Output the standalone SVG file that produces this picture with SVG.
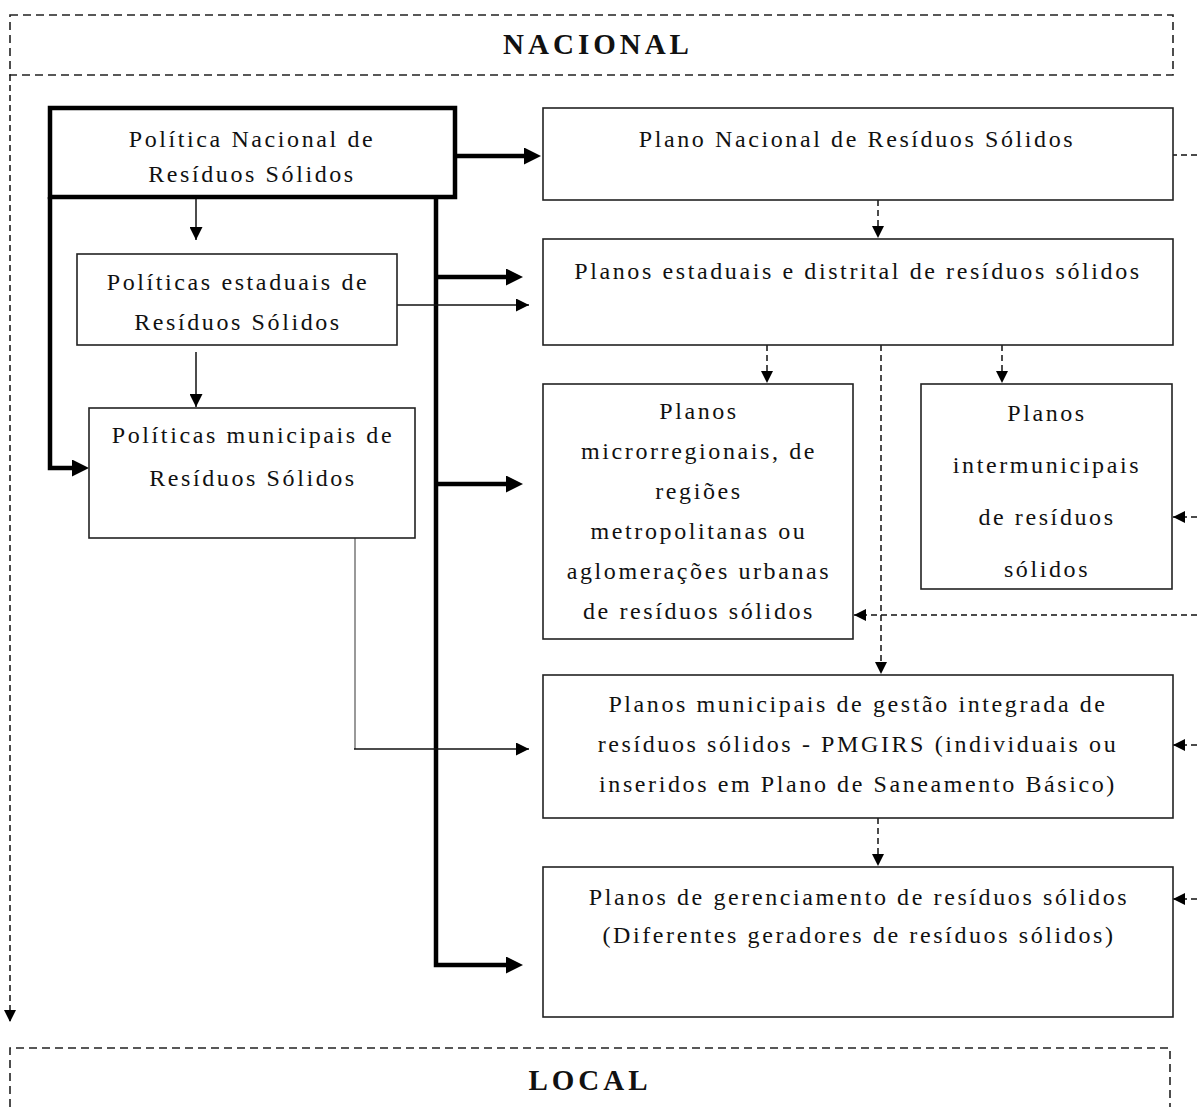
<svg xmlns="http://www.w3.org/2000/svg" width="1197" height="1107" viewBox="0 0 1197 1107">
<style>
.t{font-family:"Liberation Serif","Times New Roman",serif;font-size:24px;letter-spacing:2.6px;fill:#111;text-anchor:middle}
.h{font-family:"Liberation Serif","Times New Roman",serif;font-size:29px;font-weight:bold;letter-spacing:4px;fill:#111;text-anchor:middle}
.box{fill:#fff;stroke:#222;stroke-width:1.6}
.thickbox{fill:#fff;stroke:#000;stroke-width:4.5}
.zone{fill:none;stroke:#222;stroke-width:1.6;stroke-dasharray:8 5}
.thick{fill:none;stroke:#000;stroke-width:4.5}
.thin{fill:none;stroke:#111;stroke-width:1.5}
.gray{fill:none;stroke:#999;stroke-width:2}
.dash{fill:none;stroke:#111;stroke-width:1.5;stroke-dasharray:6 4}
</style>
<defs>
<marker id="ah" markerUnits="userSpaceOnUse" markerWidth="14" markerHeight="13" refX="13" refY="6.5" orient="auto"><path d="M0,0 L13,6.5 L0,13 z" fill="#000"/></marker>
<marker id="ahk" markerUnits="userSpaceOnUse" markerWidth="18" markerHeight="17" refX="2" refY="8.5" orient="auto"><path d="M0,0 L17,8.5 L0,17 z" fill="#000"/></marker>
<marker id="ahd" markerUnits="userSpaceOnUse" markerWidth="13" markerHeight="13" refX="12" refY="6.5" orient="auto"><path d="M0,0.5 L12,6.5 L0,12.5 z" fill="#000"/></marker>
</defs>

<g id="zone-nacional">
<rect class="zone" x="10" y="15" width="1163" height="60"/>
<text class="h" x="598" y="54">NACIONAL</text>
</g>
<g id="zone-local">
<path class="zone" d="M10,1107 V1048 H1170 V1107"/>
<text class="h" x="590" y="1090">LOCAL</text>
</g>

<g id="connectors">
<path class="dash" d="M10,75 V1022" marker-end="url(#ahd)"/>
<path class="thick" d="M455,156 H526" marker-end="url(#ahk)"/>
<path class="thick" d="M50,197 V468 H74" marker-end="url(#ahk)"/>
<path class="thick" d="M436,197 V965 H508" marker-end="url(#ahk)"/>
<path class="thick" d="M436,277 H508" marker-end="url(#ahk)"/>
<path class="thick" d="M436,484 H508" marker-end="url(#ahk)"/>
<path class="thin" d="M196,197 V240" marker-end="url(#ah)"/>
<path class="thin" d="M196,352 V407" marker-end="url(#ah)"/>
<path class="thin" d="M397,305 H529" marker-end="url(#ah)"/>
<path class="gray" d="M355,538 V749"/>
<path class="thin" d="M354,749 H529" marker-end="url(#ah)"/>
<path class="dash" d="M878,200 V238" marker-end="url(#ahd)"/>
<path class="dash" d="M767,345 V383" marker-end="url(#ahd)"/>
<path class="dash" d="M1002,345 V383" marker-end="url(#ahd)"/>
<path class="dash" d="M881,345 V674" marker-end="url(#ahd)"/>
<path class="dash" d="M1197,615 H854" marker-end="url(#ahd)"/>
<path class="dash" d="M878,818 V866" marker-end="url(#ahd)"/>
<path class="dash" d="M1197,155 H1173"/>
<path class="dash" d="M1197,517 H1173" marker-end="url(#ahd)"/>
<path class="dash" d="M1197,745 H1173" marker-end="url(#ahd)"/>
<path class="dash" d="M1197,899 H1173" marker-end="url(#ahd)"/>
</g>

<g id="politica-nacional">
<rect class="thickbox" x="50" y="108" width="405" height="89"/>
<text class="t" x="252" y="147">Política Nacional de</text>
<text class="t" x="252" y="182">Resíduos Sólidos</text>
</g>
<g id="plano-nacional">
<rect class="box" x="543" y="108" width="630" height="92"/>
<text class="t" x="857" y="147">Plano Nacional de Resíduos Sólidos</text>
</g>
<g id="politicas-estaduais">
<rect class="box" x="77" y="254" width="320" height="91"/>
<text class="t" x="238" y="290">Políticas estaduais de</text>
<text class="t" x="238" y="330">Resíduos Sólidos</text>
</g>
<g id="planos-estaduais">
<rect class="box" x="543" y="239" width="630" height="106"/>
<text class="t" x="858" y="279">Planos estaduais e distrital de resíduos sólidos</text>
</g>
<g id="politicas-municipais">
<rect class="box" x="89" y="408" width="326" height="130"/>
<text class="t" x="253" y="443">Políticas municipais de</text>
<text class="t" x="253" y="486">Resíduos Sólidos</text>
</g>
<g id="planos-microrregionais">
<rect class="box" x="543" y="384" width="310" height="255"/>
<text class="t" x="699" y="419">Planos</text>
<text class="t" x="699" y="459">microrregionais, de</text>
<text class="t" x="699" y="499">regiões</text>
<text class="t" x="699" y="539">metropolitanas ou</text>
<text class="t" x="699" y="579">aglomerações urbanas</text>
<text class="t" x="699" y="619">de resíduos sólidos</text>
</g>
<g id="planos-intermunicipais">
<rect class="box" x="921" y="384" width="251" height="205"/>
<text class="t" x="1047" y="421">Planos</text>
<text class="t" x="1047" y="473">intermunicipais</text>
<text class="t" x="1047" y="525">de resíduos</text>
<text class="t" x="1047" y="577">sólidos</text>
</g>
<g id="pmgirs">
<rect class="box" x="543" y="675" width="630" height="143"/>
<text class="t" x="858" y="712">Planos municipais de gestão integrada de</text>
<text class="t" x="858" y="752">resíduos sólidos - PMGIRS (individuais ou</text>
<text class="t" x="858" y="792">inseridos em Plano de Saneamento Básico)</text>
</g>
<g id="planos-gerenciamento">
<rect class="box" x="543" y="867" width="630" height="150"/>
<text class="t" x="859" y="905">Planos de gerenciamento de resíduos sólidos</text>
<text class="t" x="859" y="943">(Diferentes geradores de resíduos sólidos)</text>
</g>
</svg>
